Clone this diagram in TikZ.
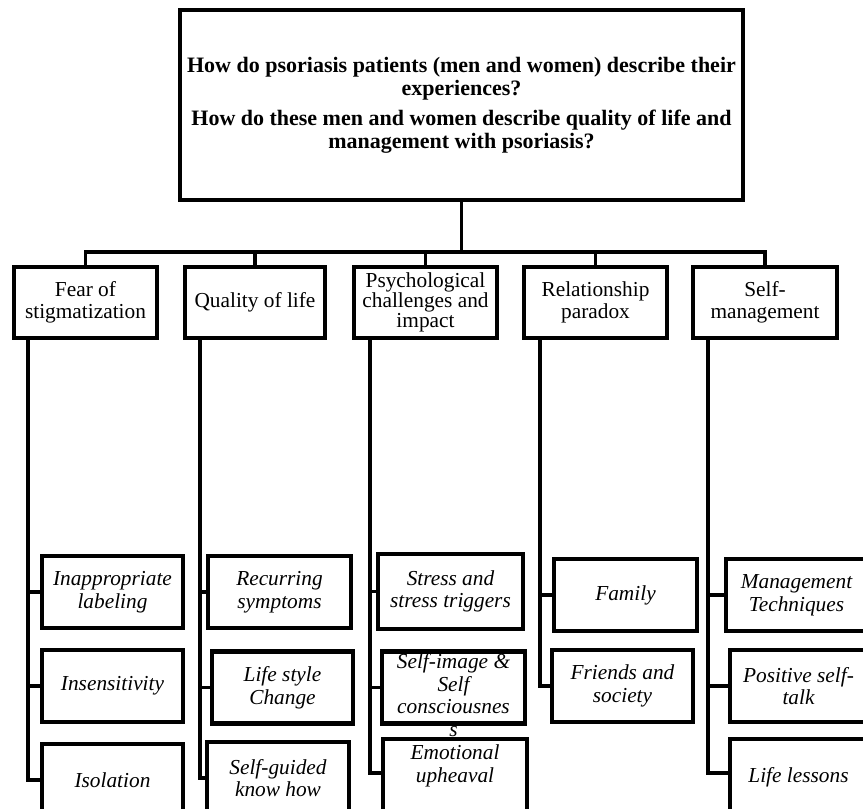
\documentclass[tikz,border=0pt]{standalone}
\usepackage{fontspec}
\setmainfont{Liberation Serif}
\usepackage{tikz}
\newcommand{\px}{0.75pt}
\tikzset{%
  question_block/.style={%
    rectangle,%
    draw=black,%
    line width=3.2pt,%
    inner sep=0pt,%
    minimum width=563*\px,%
    minimum height=190*\px,%
    font={\fontsize{16.5pt}{17pt}\bfseries\selectfont},%
    align=center%
  },
  theme_block/.style={%
    rectangle,%
    draw=black,%
    line width=3.2pt,%
    inner sep=0pt,%
    minimum width=143*\px,%
    minimum height=71*\px,%
    font={\fontsize{16pt}{16.5pt}\selectfont},%
    align=center%
  },
  subtheme_block/.style={%
    theme_block,%
    minimum height=72*\px,%
    font={\fontsize{16pt}{17pt}\itshape\selectfont},%
  },
  hanging_text/.style={%
    anchor=north,%
    inner sep=0pt,%
    font={\fontsize{16pt}{17pt}\itshape\selectfont},%
    align=center%
  },
  branch/.style={%
    draw=black,%
    line width=2.8pt,%
  },
}

\begin{document}
\begin{tikzpicture}[x=0.75pt, y=-0.75pt]
    \useasboundingbox (0,0) rectangle (863,809);
    \clip (0,0) rectangle (863,809);

    \node [question_block] (Question) at (461.5,105)
      {How do psoriasis patients (men and women) describe their\\experiences?\\[5.7pt]%
       How do these men and women describe quality of life and\\management with psoriasis?};
    \coordinate (Hub) at (461.5,252);

    \node [theme_block] (Stigma) at (85.5,302.5) {Fear of\\stigmatization};
    \node [theme_block, minimum width=140*\px] (Quality) at (255,302.5) {Quality of life};
    \node [theme_block, font={\fontsize{16pt}{15pt}\selectfont}] (Psych) at (425.5,302.5)
      {Psychological\\challenges and\\impact};
    \node [theme_block] (Relation) at (595.5,302.5) {Relationship\\paradox};
    \node [theme_block, minimum width=144*\px] (SelfCare) at (765,302.5) {Self-\\management};

    \node [subtheme_block, minimum width=141*\px] (Labeling) at (112.5,592) {Inappropriate\\labeling};
    \node [subtheme_block, minimum width=141*\px] (Insensitivity) at (112.5,686) {Insensitivity};
    \node [subtheme_block, minimum width=141*\px] (Isolation) at (112.5,780) {Isolation};

    \node [subtheme_block] (Recurring) at (279.5,592) {Recurring\\symptoms};
    \node [subtheme_block, minimum width=141*\px] (Lifestyle) at (282.5,687.5) {Life style\\Change};
    \node [subtheme_block, minimum width=142*\px] (KnowHow) at (278,778) {Self-guided\\know how};

    \node [subtheme_block, minimum width=145*\px, minimum height=75*\px] (Stress) at (450.5,591.5)
      {Stress and\\stress triggers};
    \node [subtheme_block] (SelfImage) at (453.5,687.5) {};
    \node [hanging_text] (SelfImageText) at ([yshift=-3pt]SelfImage.north)
      {Self-image \&\\Self\\consciousnes\\s};
    \node [subtheme_block, minimum width=144*\px, minimum height=76*\px] (Upheaval) at (455,777) {};
    \node [hanging_text] (UpheavalText) at ([yshift=-5.6pt]Upheaval.north) {Emotional\\upheaval};

    \node [subtheme_block] (Family) at (625.5,595) {Family};
    \node [subtheme_block, minimum width=141*\px] (Friends) at (622.5,686) {Friends and\\society};

    \node [subtheme_block, minimum width=141*\px] (Techniques) at (796.5,595) {Management\\Techniques};
    \node [subtheme_block, minimum width=137*\px] (SelfTalk) at (798.5,686) {Positive self-\\talk};
    \node [subtheme_block, minimum width=137*\px, minimum height=76*\px] (Lessons) at (798.5,777)
      {Life lessons};

    \coordinate (StigmaStem) at ([xshift=12pt]Stigma.south west);
    \coordinate (QualityStem) at ([xshift=12.8pt]Quality.south west);
    \coordinate (PsychStem) at ([xshift=13.6pt]Psych.south west);
    \coordinate (RelationStem) at ([xshift=13.6pt]Relation.south west);
    \coordinate (SelfCareStem) at ([xshift=12.8pt]SelfCare.south west);

    \draw [branch]
      (Question.south) -- (Hub);
    \draw [branch] (Stigma.north) |- (Hub);
    \draw [branch] (Quality.north) |- (Hub);
    \draw [branch] (Psych.north) |- (Hub);
    \draw [branch] (Relation.north) |- (Hub);
    \draw [branch] (SelfCare.north) |- (Hub);

    \draw [branch] (StigmaStem) |- (Labeling.west);
    \draw [branch] (StigmaStem) |- (Insensitivity.west);
    \draw [branch] (StigmaStem) |- (Isolation.west);

    \draw [branch] (QualityStem) |- (Recurring.west);
    \draw [branch] (QualityStem) |- (Lifestyle.west);
    \draw [branch] (QualityStem) |- (KnowHow.west);

    \draw [branch] (PsychStem) |- (Stress.west);
    \draw [branch] (PsychStem) |- (SelfImage.west);
    \draw [branch] (PsychStem) |- ([yshift=3pt]Upheaval.west);

    \draw [branch] (RelationStem) |- (Family.west);
    \draw [branch] (RelationStem) |- (Friends.west);

    \draw [branch] (SelfCareStem) |- (Techniques.west);
    \draw [branch] (SelfCareStem) |- (SelfTalk.west);
    \draw [branch] (SelfCareStem) |- ([yshift=3pt]Lessons.west);
\end{tikzpicture}
\end{document}
